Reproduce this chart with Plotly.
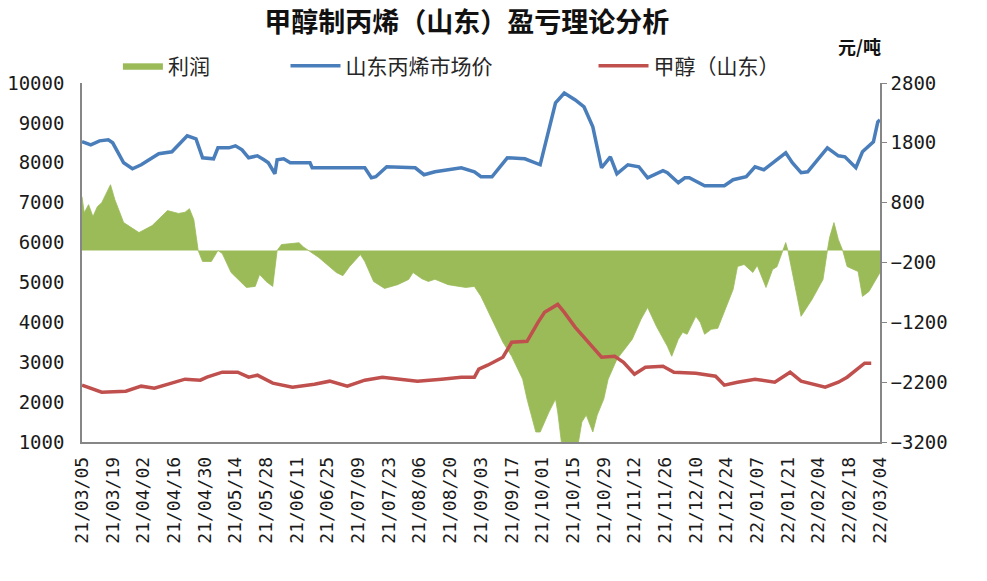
import plotly.graph_objects as go

# ---------------- data ----------------
price_dates = ["2021-03-05","2021-03-09","2021-03-13","2021-03-17","2021-03-19","2021-03-24","2021-03-28",
    "2021-04-01","2021-04-09","2021-04-15","2021-04-22","2021-04-26","2021-04-29","2021-05-04","2021-05-06",
    "2021-05-11","2021-05-14","2021-05-17","2021-05-20","2021-05-24","2021-05-27","2021-05-29","2021-06-01",
    "2021-06-02","2021-06-05","2021-06-08","2021-06-17","2021-06-18","2021-07-12","2021-07-15","2021-07-17",
    "2021-07-22","2021-08-04","2021-08-08","2021-08-13","2021-08-22","2021-08-25","2021-08-31","2021-09-03",
    "2021-09-08","2021-09-15","2021-09-23","2021-09-30","2021-10-07","2021-10-11","2021-10-16","2021-10-20",
    "2021-10-24","2021-10-28","2021-11-01","2021-11-04","2021-11-09","2021-11-14","2021-11-18","2021-11-25",
    "2021-11-27","2021-12-02","2021-12-05","2021-12-07","2021-12-14","2021-12-23","2021-12-27","2022-01-02",
    "2022-01-06","2022-01-10","2022-01-20","2022-01-23","2022-01-27","2022-01-30","2022-02-08","2022-02-13",
    "2022-02-16","2022-02-21","2022-02-24","2022-03-01","2022-03-03","2022-03-04"]
propylene_price = [8530,8450,8550,8575,8500,8000,7850,
    7950,8225,8275,8675,8600,8125,8100,8375,
    8375,8425,8325,8125,8175,8075,8000,7725,
    8075,8100,8000,8000,7875,7875,7625,7650,
    7900,7875,7700,7775,7850,7875,7775,7650,
    7650,8125,8100,7950,9500,9750,9575,9400,
    8900,7875,8150,7725,7950,7900,7625,7800,
    7750,7500,7625,7625,7425,7425,7575,7650,
    7900,7825,8250,8000,7750,7775,8375,8175,
    8150,7875,8275,8525,9025,9075]

methanol_dates = ["2021-03-05","2021-03-14","2021-03-25","2021-04-01","2021-04-07","2021-04-13","2021-04-21",
    "2021-04-28","2021-05-01","2021-05-08","2021-05-15","2021-05-20","2021-05-24","2021-05-31","2021-06-09",
    "2021-06-19","2021-06-26","2021-07-04","2021-07-12","2021-07-20","2021-07-27","2021-08-05","2021-08-16",
    "2021-08-25","2021-08-31","2021-09-02","2021-09-06","2021-09-13","2021-09-17","2021-09-24","2021-09-29",
    "2021-10-02","2021-10-08","2021-10-11","2021-10-16","2021-10-22","2021-10-28","2021-11-03","2021-11-07",
    "2021-11-12","2021-11-17","2021-11-25","2021-11-30","2021-12-10","2021-12-19","2021-12-23","2021-12-29",
    "2022-01-06","2022-01-12","2022-01-15","2022-01-22","2022-01-27","2022-02-07","2022-02-13","2022-02-17",
    "2022-02-25","2022-02-28"]
methanol_price = [2425,2250,2275,2400,2350,2450,2575,
    2550,2625,2750,2750,2625,2675,2475,2375,
    2450,2525,2400,2550,2625,2575,2525,2575,
    2625,2625,2825,2925,3125,3500,3525,4000,
    4250,4450,4250,3875,3500,3125,3150,3000,
    2700,2875,2900,2750,2725,2650,2425,2500,
    2575,2525,2500,2750,2525,2375,2500,2625,
    2975,2975]

profit_dates = ["2021-03-05","2021-03-06","2021-03-08","2021-03-10","2021-03-12","2021-03-14","2021-03-18",
    "2021-03-20","2021-03-24","2021-03-31","2021-04-06","2021-04-12","2021-04-13","2021-04-18","2021-04-21",
    "2021-04-23","2021-04-25","2021-04-27","2021-04-29","2021-05-03","2021-05-06","2021-05-08","2021-05-12",
    "2021-05-19","2021-05-23","2021-05-25","2021-05-28","2021-05-31","2021-06-02","2021-06-04","2021-06-12",
    "2021-06-14","2021-06-21","2021-06-29","2021-07-02","2021-07-05","2021-07-10","2021-07-12","2021-07-16",
    "2021-07-21","2021-07-27","2021-08-01","2021-08-03","2021-08-07","2021-08-10","2021-08-13","2021-08-19",
    "2021-08-27","2021-08-31","2021-09-03","2021-09-08","2021-09-13","2021-09-17","2021-09-22","2021-09-24",
    "2021-09-28","2021-09-30","2021-10-04","2021-10-07","2021-10-08","2021-10-10","2021-10-17","2021-10-19",
    "2021-10-21","2021-10-24","2021-10-26","2021-10-29","2021-10-31","2021-11-04","2021-11-11","2021-11-15",
    "2021-11-18","2021-11-22","2021-11-27","2021-11-29","2021-12-02","2021-12-04","2021-12-06","2021-12-10",
    "2021-12-12","2021-12-14","2021-12-17","2021-12-20","2021-12-23","2021-12-27","2021-12-29","2022-01-01",
    "2022-01-05","2022-01-07","2022-01-11","2022-01-14","2022-01-16","2022-01-20","2022-01-21","2022-01-27",
    "2022-02-01","2022-02-06","2022-02-08","2022-02-09","2022-02-11","2022-02-13","2022-02-15","2022-02-17",
    "2022-02-22","2022-02-24","2022-02-27","2022-03-02","2022-03-04"]
profit = [900,633,767,567,733,800,1100,
    850,467,300,417,633,667,620,640,
    700,517,0,-183,-183,0,-50,-367,
    -617,-600,-400,-517,-600,0,100,130,
    60,-117,-367,-420,-270,-67,-183,-517,
    -633,-570,-483,-367,-470,-517,-480,-570,
    -617,-600,-767,-1150,-1533,-1767,-2150,-2483,
    -3033,-3033,-2700,-2483,-2700,-3300,-3300,-2867,
    -2750,-3033,-2750,-2483,-2150,-1817,-1483,-1150,
    -950,-1267,-1600,-1767,-1483,-1367,-1400,-1100,
    -1200,-1400,-1317,-1300,-1033,-650,-267,-233,
    -367,-250,-617,-317,-270,133,0,-1100,
    -817,-483,0,217,467,183,0,-267,
    -350,-767,-683,-483,-367]

names = ["利润", "山东丙烯市场价", "甲醇（山东）"]
title_text = "甲醇制丙烯（山东）盈亏理论分析"
unit_text = "元/吨"

GREEN, BLUE, RED = "#9BBB59", "#4A7EBB", "#C0504D"
AXIS = "#868686"
TICKFONT = dict(family="DejaVu Sans Mono", size=19, color="#1a1a1a")
LEGFONT = dict(family="Noto Sans CJK SC", size=21, color="#262626")

fig = go.Figure()
fig.add_trace(go.Scatter(x=profit_dates, y=profit, name=names[0], mode="lines",
                         line=dict(color=GREEN, width=0.8), fill="tozeroy", fillcolor=GREEN,
                         yaxis="y", legend="legend", showlegend=True))
fig.add_trace(go.Scatter(x=price_dates, y=propylene_price, name=names[1], mode="lines",
                         line=dict(color=BLUE, width=3.5), yaxis="y2", legend="legend2", showlegend=True))
fig.add_trace(go.Scatter(x=methanol_dates, y=methanol_price, name=names[2], mode="lines",
                         line=dict(color=RED, width=3.5), yaxis="y2", legend="legend3", showlegend=True))

def leg(x, iw):
    return dict(orientation="h", yanchor="middle", y=1.047, xanchor="left", x=x,
                font=LEGFONT, bgcolor="rgba(0,0,0,0)", itemwidth=iw)

fig.update_layout(
    width=987, height=581, showlegend=True,
    margin=dict(l=82, r=107, t=83, b=139, autoexpand=False),
    paper_bgcolor="white", plot_bgcolor="white",
    title=dict(text=title_text, x=0.473, xanchor="center", y=0.962, yanchor="middle",
               font=dict(family="Noto Sans CJK SC", size=27, color="#111111", weight="bold")),
    xaxis=dict(type="date", range=["2021-03-05", "2022-03-04"], tick0="2021-03-05",
               dtick=14 * 86400000, tickformat="%y/%m/%d", tickangle=-90, automargin=False,
               showline=True, linecolor=AXIS, linewidth=1.5, ticks="", showgrid=False,
               zeroline=False, tickfont=dict(family="DejaVu Sans Mono", size=18, color="#1a1a1a"),
               ticklabelstandoff=6),
    yaxis=dict(side="right", range=[-3200, 2800], tick0=-3200, dtick=1000, tickformat="d",
               showline=True, linecolor=AXIS, linewidth=1.5, ticks="outside", ticklen=5,
               automargin=False,
               tickcolor=AXIS, showgrid=False, zeroline=False, tickfont=TICKFONT),
    yaxis2=dict(side="left", overlaying="y", range=[1000, 10000], dtick=1000, tickformat="d",
                showline=True, linecolor=AXIS, linewidth=1.5, ticks="", showgrid=False,
                automargin=False,
                zeroline=False, tickfont=TICKFONT, ticklabelstandoff=12),
    legend=leg(0.045, 40),
    legend2=leg(0.255, 50),
    legend3=leg(0.641, 50),
    annotations=[dict(text=unit_text, xref="paper", yref="paper", x=(859 - 82) / 798, y=(442 - 46) / 359,
                      xanchor="center", yanchor="middle", showarrow=False,
                      font=dict(family="Noto Sans CJK SC", size=18, color="#111111", weight="bold"))],
)

fig.write_html("out.html")
